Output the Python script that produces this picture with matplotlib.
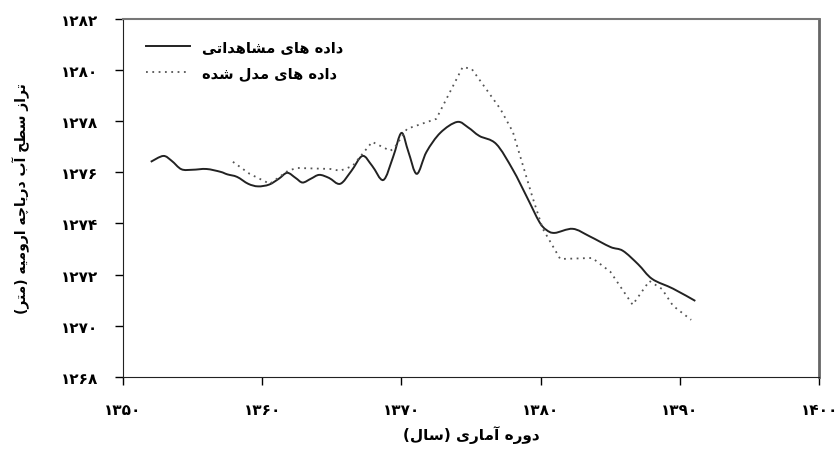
import matplotlib
matplotlib.use('Agg')
import matplotlib.pyplot as plt
from matplotlib.ticker import FixedLocator, FuncFormatter
from matplotlib.path import Path
from matplotlib.patches import PathPatch
from matplotlib.lines import Line2D

# داده ها (خوانده شده از نمودار)
sal_mosh = [1352.0, 1352.9, 1353.5, 1354.2, 1355.0, 1356.0, 1357.0, 1357.5, 1358.2, 1359.0,
            1359.7, 1360.5, 1361.2, 1361.8, 1362.4, 1362.9, 1363.5, 1364.1, 1364.8, 1365.6,
            1366.4, 1367.2, 1367.9, 1368.7, 1369.4, 1370.0, 1370.5, 1371.1, 1371.8, 1372.8,
            1374.0, 1374.8, 1375.6, 1376.8, 1378.0, 1379.0, 1379.9, 1380.4, 1381.0, 1382.3,
            1383.5, 1385.0, 1385.9, 1387.0, 1388.0, 1389.5, 1391.1]
taraz_mosh = [1276.41, 1276.64, 1276.45, 1276.12, 1276.10, 1276.13, 1276.02, 1275.92, 1275.82, 1275.55,
              1275.45, 1275.52, 1275.75, 1275.98, 1275.78, 1275.60, 1275.75, 1275.90, 1275.78, 1275.55,
              1276.05, 1276.64, 1276.25, 1275.70, 1276.60, 1277.54, 1276.80, 1275.94, 1276.80, 1277.55,
              1277.97, 1277.75, 1277.42, 1277.11, 1276.10, 1275.04, 1274.06, 1273.75, 1273.63, 1273.79,
              1273.50, 1273.08, 1272.93, 1272.40, 1271.83, 1271.45, 1270.97]

sal_model = [1357.9, 1359.1, 1360.55, 1361.85, 1362.5, 1364.9, 1365.6, 1366.5, 1367.2, 1367.9,
             1369.2, 1369.5, 1370.4, 1372.5, 1374.4, 1375.05, 1377.1, 1378.0, 1379.4, 1380.15,
             1381.4, 1383.7, 1385.0, 1386.6, 1387.8, 1388.7, 1389.5, 1390.8]
taraz_model = [1276.41, 1275.94, 1275.55, 1276.06, 1276.17, 1276.13, 1276.06, 1276.25, 1276.72, 1277.19,
               1276.84, 1276.96, 1277.70, 1278.09, 1280.12, 1280.04, 1278.48, 1277.58, 1275.04, 1273.79,
               1272.61, 1272.65, 1272.11, 1270.82, 1271.75, 1271.44, 1270.78, 1270.23]

x_ticks = [1350, 1360, 1370, 1380, 1390, 1400]
y_ticks = [1268, 1270, 1272, 1274, 1276, 1278, 1280, 1282]

# شکل حروف عربی (جدا، پایانی، آغازی، میانی)
FORMS = {
    'ا': ('\uFE8D', '\uFE8E', None, None),
    'آ': ('\uFE81', '\uFE82', None, None),
    'د': ('\uFEA9', '\uFEAA', None, None),
    'ر': ('\uFEAD', '\uFEAE', None, None),
    'ز': ('\uFEAF', '\uFEB0', None, None),
    'و': ('\uFEED', '\uFEEE', None, None),
    'ب': ('\uFE8F', '\uFE90', '\uFE91', '\uFE92'),
    'ت': ('\uFE95', '\uFE96', '\uFE97', '\uFE98'),
    'چ': ('\uFB7A', '\uFB7B', '\uFB7C', '\uFB7D'),
    'ح': ('\uFEA1', '\uFEA2', '\uFEA3', '\uFEA4'),
    'س': ('\uFEB1', '\uFEB2', '\uFEB3', '\uFEB4'),
    'ش': ('\uFEB5', '\uFEB6', '\uFEB7', '\uFEB8'),
    'ط': ('\uFEC1', '\uFEC2', '\uFEC3', '\uFEC4'),
    'ل': ('\uFEDD', '\uFEDE', '\uFEDF', '\uFEE0'),
    'م': ('\uFEE1', '\uFEE2', '\uFEE3', '\uFEE4'),
    'ه': ('\uFEE9', '\uFEEA', '\uFEEB', '\uFEEC'),
    'ی': ('\uFEEF', '\uFEF0', '\uFEF3', '\uFEF4'),
}


def fa(text):
    out = []
    for i, ch in enumerate(text):
        if ch not in FORMS:
            out.append(ch)
            continue
        iso, fin, ini, med = FORMS[ch]
        prev = text[i - 1] if i > 0 else ''
        nxt = text[i + 1] if i + 1 < len(text) else ''
        j_prev = prev in FORMS and FORMS[prev][2] is not None
        j_next = ini is not None and nxt in FORMS
        if j_prev and j_next:
            out.append(med)
        elif j_prev:
            out.append(fin)
        elif j_next:
            out.append(ini)
        else:
            out.append(iso)
    s = ''.join(out)[::-1]
    return s.translate(str.maketrans('()', ')('))


def fa_num(v, pos=None):
    return str(int(v)).translate(str.maketrans('0123456789', '۰۱۲۳۴۵۶۷۸۹'))


def smooth_path(xs, ys):
    # منحنی هموار (بزیه) که از همه نقاط داده می گذرد
    pts = list(zip(xs, ys))
    verts = [pts[0]]
    codes = [Path.MOVETO]
    n = len(pts)
    for i in range(n - 1):
        p0 = pts[i - 1] if i > 0 else pts[i]
        p1 = pts[i]
        p2 = pts[i + 1]
        p3 = pts[i + 2] if i + 2 < n else p2
        c1 = (p1[0] + (p2[0] - p0[0]) / 6, p1[1] + (p2[1] - p0[1]) / 6)
        c2 = (p2[0] - (p3[0] - p1[0]) / 6, p2[1] - (p3[1] - p1[1]) / 6)
        verts += [c1, c2, p2]
        codes += [Path.CURVE4] * 3
    return Path(verts, codes)


plt.rcParams['font.family'] = ['DejaVu Sans']

fig = plt.figure(figsize=(8.36, 4.52), dpi=100)
ax = fig.add_axes([0.147, 0.164, 0.833, 0.792])

c_mosh = '#222222'
c_model = '#555555'
ls_model = (0, (1, 2.5))

ax.add_patch(PathPatch(smooth_path(sal_mosh, taraz_mosh), fill=False,
                       edgecolor=c_mosh, lw=1.4))
ax.plot(sal_model, taraz_model, color=c_model, lw=1.3, linestyle=ls_model)

ax.set_xlim(1350, 1400)
ax.set_ylim(1268, 1282)
ax.xaxis.set_major_locator(FixedLocator(x_ticks))
ax.yaxis.set_major_locator(FixedLocator(y_ticks))
ax.xaxis.set_major_formatter(FuncFormatter(fa_num))
ax.yaxis.set_major_formatter(FuncFormatter(fa_num))
ax.tick_params(direction='out', length=6, width=1, labelsize=11, pad=12)
for lab in ax.get_xticklabels() + ax.get_yticklabels():
    lab.set_fontweight('bold')

ax.spines['left'].set_color('#222222')
ax.spines['bottom'].set_color('#222222')
ax.spines['top'].set_color('#777777')
ax.spines['right'].set_color('#666666')
ax.spines['top'].set_linewidth(1.5)
ax.spines['right'].set_linewidth(2)

ax.set_xlabel(fa('دوره آماری (سال)'), fontsize=11, fontweight='bold', labelpad=6)
ax.set_ylabel(fa('تراز سطح آب دریاچه ارومیه (متر)'), fontsize=10, fontweight='bold', labelpad=22)

handles = [Line2D([], [], color=c_mosh, lw=1.4),
           Line2D([], [], color=c_model, lw=1.3, linestyle=ls_model)]
labels = [fa('داده های مشاهداتی'), fa('داده های مدل شده')]
ax.legend(handles, labels, loc='upper left', frameon=False, handlelength=3.0,
          handletextpad=0.8, labelspacing=0.75,
          prop={'weight': 'bold', 'size': 10.5}, bbox_to_anchor=(0.015, 0.98))

fig.savefig('out.png', dpi=100)
